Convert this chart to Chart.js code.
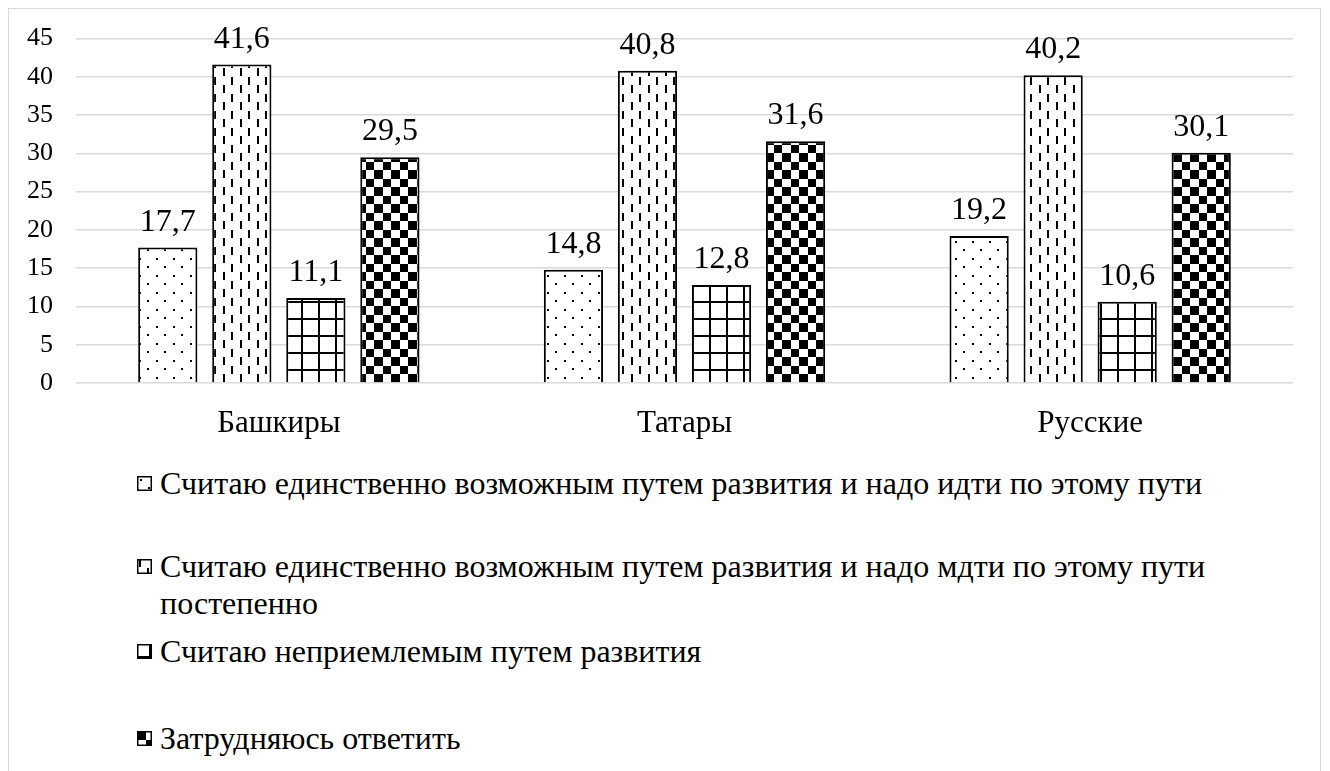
<!DOCTYPE html>
<html>
<head>
<meta charset="utf-8">
<script src="https://cdn.jsdelivr.net/npm/chart.js@4.4.1/dist/chart.umd.min.js"></script>
<style>
    body { margin: 0; background: #fff; font-family: "Liberation Serif", "Times New Roman", serif; }
    #frame {
        position: absolute; left: 8px; top: 8px; width: 1313px; height: 820px;
        border: 1.5px solid #d9d9d9; box-sizing: border-box;
    }
    #chart { position: absolute; left: 0; top: 0; }
    .legend-item {
        position: absolute; left: 137px; width: 1120px;
        display: flex; align-items: flex-start;
        font-size: 32px; line-height: 37px; color: #000;
    }
    .legend-item canvas { flex: none; margin-top: 11px; margin-right: 8px; }
</style>
</head>
<body>
<div id="frame"></div>
<canvas id="chart" width="1330" height="440"></canvas>
<div id="legend"></div>
<script>
// Data
const categories = ['Башкиры', 'Татары', 'Русские'];
const seriesNames = [
    'Считаю единственно возможным путем развития и надо идти по этому пути',
    'Считаю единственно возможным путем развития и надо мдти по этому пути постепенно',
    'Считаю неприемлемым путем развития',
    'Затрудняюсь ответить'
];
const onlyWay = [17.7, 14.8, 19.2];
const onlyWayGradual = [41.6, 40.8, 40.2];
const unacceptable = [11.1, 12.8, 10.6];
const hardToSay = [29.5, 31.6, 30.1];
const yTicks = [0, 5, 10, 15, 20, 25, 30, 35, 40, 45];

const FONT = '"Liberation Serif", "Times New Roman", serif';

// Patterns
function makeTile(draw) {
    const c = document.createElement('canvas');
    c.width = 17; c.height = 17;
    const g = c.getContext('2d');
    g.fillStyle = '#fff';
    g.fillRect(0, 0, 17, 17);
    g.fillStyle = '#000';
    draw(g);
    return c;
}

const tiles = [
    makeTile(g => {           // dots
        g.fillRect(3, 3, 2, 2);
        g.fillRect(11, 11, 2, 2);
    }),
    makeTile(g => {           // dashed vertical
        g.fillRect(2, 0, 2, 8);
        g.fillRect(10, 9, 2, 8);
    }),
    makeTile(g => {           // grid
        g.fillRect(12, 0, 2, 17);
        g.fillRect(0, 12, 17, 2);
    }),
    makeTile(g => {           // checker
        g.fillRect(0, 0, 9, 9);
        g.fillRect(9, 9, 8, 8);
    })
];

const valueLabels = {
    id: 'valueLabels',
    afterDatasetsDraw(chart) {
        const c = chart.ctx;
        c.save();
        c.font = '32px ' + FONT;
        c.fillStyle = '#000';
        c.textAlign = 'center';
        c.textBaseline = 'alphabetic';
        chart.data.datasets.forEach((ds, i) => {
            chart.getDatasetMeta(i).data.forEach((bar, j) => {
                c.fillText(String(ds.data[j]).replace('.', ','), bar.x, bar.y - 17);
            });
        });
        c.restore();
    }
};

const seriesData = [onlyWay, onlyWayGradual, unacceptable, hardToSay];

const ctx = document.getElementById('chart').getContext('2d');
const patterns = tiles.map(t => ctx.createPattern(t, 'repeat'));

new Chart(ctx, {
    type: 'bar',
    data: {
        labels: categories,
        datasets: seriesData.map((d, i) => ({
            label: seriesNames[i],
            data: d,
            backgroundColor: patterns[i],
            borderColor: '#000',
            borderWidth: 2,
            categoryPercentage: 0.73,
            barPercentage: 0.8
        }))
    },
    options: {
        responsive: false,
        animation: false,
        devicePixelRatio: 1,
        layout: { padding: { top: 38, right: 37, left: 0, bottom: 0 } },
        plugins: {
            legend: { display: false },
            tooltip: { enabled: false }
        },
        scales: {
            y: {
                min: 0,
                max: 45,
                afterBuildTicks: s => { s.ticks = yTicks.map(v => ({ value: v })); },
                afterFit: s => { s.width = 76; },
                border: { display: false },
                grid: { color: '#d9d9d9', lineWidth: 1.5, drawTicks: false },
                ticks: {
                    color: '#000',
                    padding: 23,
                    font: { family: FONT, size: 26 }
                }
            },
            x: {
                afterFit: s => { s.height = 57; },
                border: { display: false },
                grid: { display: false, drawTicks: false },
                ticks: {
                    color: '#000',
                    padding: 22,
                    font: { family: FONT, size: 31 }
                }
            }
        }
    },
    plugins: [valueLabels]
});

// Legend
const legendTops = [465, 548, 633, 720];
const legend = document.getElementById('legend');
seriesNames.forEach((name, i) => {
    const item = document.createElement('div');
    item.className = 'legend-item';
    item.style.top = legendTops[i] + 'px';
    const sw = document.createElement('canvas');
    sw.width = 15; sw.height = 15;
    const g = sw.getContext('2d');
    g.fillStyle = g.createPattern(tiles[i], 'repeat');
    g.fillRect(0, 0, 15, 15);
    g.strokeStyle = '#000';
    g.lineWidth = 1.5;
    g.strokeRect(0.75, 0.75, 13.5, 13.5);
    const txt = document.createElement('span');
    txt.textContent = name;
    item.appendChild(sw);
    item.appendChild(txt);
    legend.appendChild(item);
});
</script>
</body>
</html>
